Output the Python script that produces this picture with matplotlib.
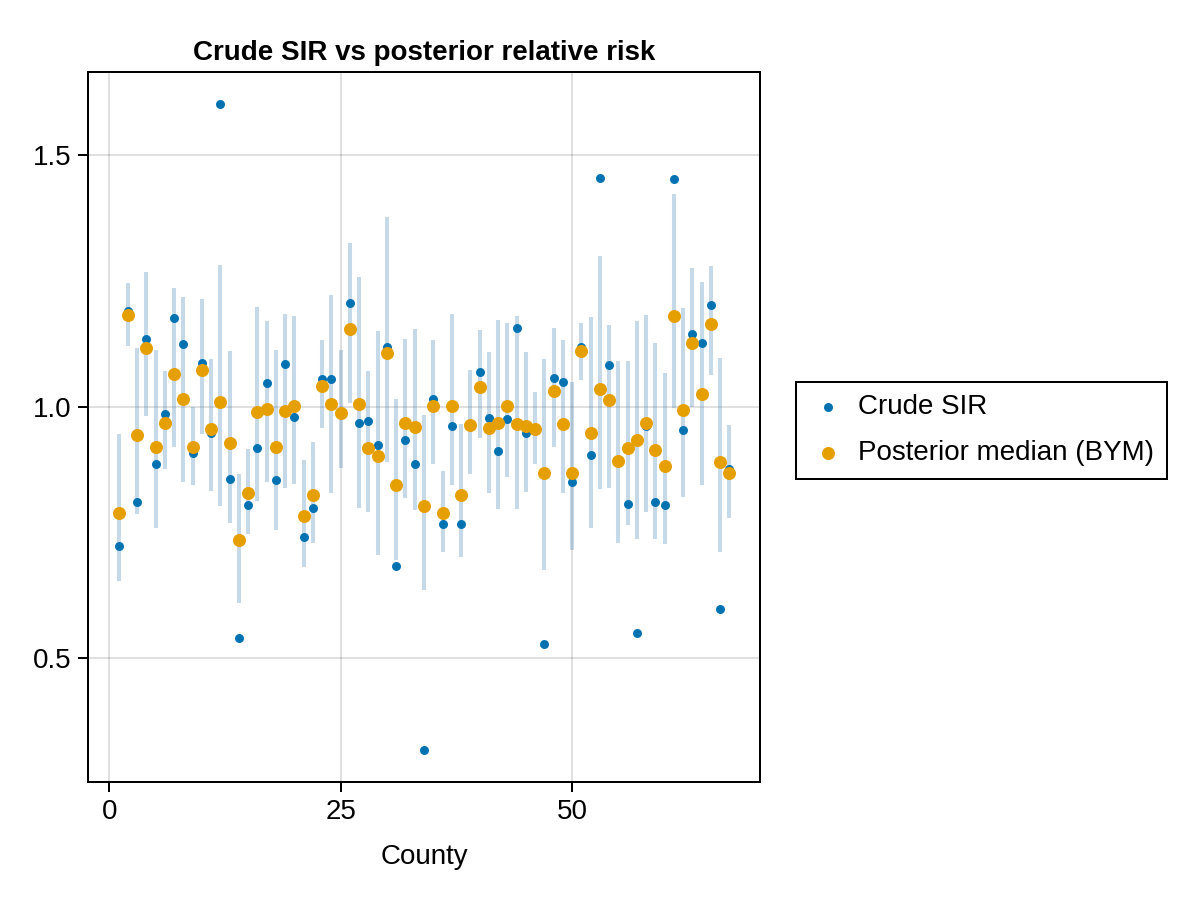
import numpy as np
import matplotlib
matplotlib.use("Agg")
import matplotlib.pyplot as plt

county = list(range(1, 68))

crude_sir = [0.723, 1.191, 0.810, 1.135, 0.886, 0.986, 1.177, 1.125, 0.908, 1.086,
             0.948, 1.602, 0.857, 0.540, 0.805, 0.918, 1.048, 0.855, 1.084, 0.980,
             0.741, 0.799, 1.056, 1.056, 0.988, 1.207, 0.968, 0.972, 0.924, 1.118,
             0.683, 0.934, 0.886, 0.317, 1.016, 0.766, 0.962, 0.766, 0.962, 1.068,
             0.978, 0.912, 0.976, 1.157, 0.948, 0.956, 0.528, 1.058, 1.050, 0.851,
             1.118, 0.904, 1.456, 1.082, 0.890, 0.807, 0.550, 0.962, 0.811, 0.805,
             1.454, 0.954, 1.145, 1.127, 1.203, 0.598, 0.876]

post_median = [0.789, 1.183, 0.944, 1.116, 0.920, 0.968, 1.064, 1.016, 0.920, 1.072,
               0.956, 1.010, 0.928, 0.735, 0.829, 0.990, 0.996, 0.920, 0.992, 1.002,
               0.783, 0.825, 1.042, 1.006, 0.987, 1.155, 1.006, 0.918, 0.902, 1.106,
               0.845, 0.968, 0.960, 0.803, 1.002, 0.789, 1.002, 0.825, 0.963, 1.040,
               0.958, 0.968, 1.002, 0.966, 0.962, 0.956, 0.867, 1.032, 0.966, 0.867,
               1.110, 0.948, 1.035, 1.014, 0.892, 0.918, 0.934, 0.968, 0.914, 0.882,
               1.181, 0.994, 1.127, 1.026, 1.165, 0.890, 0.867]

ci_lower = [0.653, 1.120, 0.787, 0.982, 0.759, 0.876, 0.920, 0.851, 0.845, 0.946,
            0.833, 0.803, 0.769, 0.610, 0.747, 0.813, 0.851, 0.755, 0.839, 0.847,
            0.681, 0.729, 0.958, 0.829, 0.878, 1.008, 0.799, 0.791, 0.705, 0.889,
            0.695, 0.819, 0.795, 0.635, 0.886, 0.711, 0.845, 0.700, 0.865, 0.938,
            0.829, 0.797, 0.859, 0.797, 0.831, 0.886, 0.675, 0.920, 0.829, 0.715,
            1.054, 0.759, 0.837, 0.839, 0.729, 0.765, 0.737, 0.791, 0.737, 0.727,
            0.998, 0.821, 1.000, 0.845, 1.062, 0.711, 0.779]

ci_upper = [0.946, 1.247, 1.116, 1.267, 1.112, 1.070, 1.237, 1.219, 1.000, 1.215,
            1.095, 1.281, 1.110, 0.865, 0.916, 1.198, 1.170, 1.112, 1.185, 1.181,
            0.894, 0.930, 1.133, 1.223, 1.112, 1.325, 1.259, 1.070, 1.150, 1.378,
            1.016, 1.135, 1.155, 0.984, 1.133, 0.871, 1.185, 0.966, 1.072, 1.153,
            1.108, 1.173, 1.167, 1.181, 1.108, 1.030, 1.094, 1.157, 1.133, 1.050,
            1.167, 1.179, 1.299, 1.163, 1.090, 1.090, 1.171, 1.183, 1.127, 1.066,
            1.424, 1.197, 1.275, 1.249, 1.279, 1.096, 0.964]

xticks = [0, 25, 50]
yticks = [0.5, 1.0, 1.5]
ytick_labels = ["0.5", "1.0", "1.5"]

plt.rcParams['font.family'] = ['Liberation Sans', 'DejaVu Sans']

fig = plt.figure(figsize=(12, 9), dpi=100)
ax = fig.add_axes([88/1200, 1-782/900, (760-88)/1200, (782-72)/900])

blue = "#0072B2"
orange = "#E69F00"

ax.vlines(county, ci_lower, ci_upper, color=(0.27, 0.51, 0.71), alpha=0.3,
          linewidth=2.9, zorder=2)
ax.scatter(county, crude_sir, s=42, color=blue, linewidths=0, zorder=3,
           label="Crude SIR")
ax.scatter(county, post_median, s=88, color=orange, linewidths=0, zorder=4,
           label="Posterior median (BYM)")

ax.set_xlim(-2.3, 70.3)
ax.set_ylim(0.253, 1.666)
ax.set_xticks(xticks)
ax.set_yticks(yticks)
ax.set_yticklabels(ytick_labels)
ax.grid(True, color='black', alpha=0.12, linewidth=1.44, zorder=0)
ax.set_axisbelow(True)
for sp in ax.spines.values():
    sp.set_linewidth(1.44)
ax.tick_params(axis='both', which='major', length=7.2, width=1.44,
               labelsize=20, pad=5)

ax.set_xlabel("County", fontsize=20, labelpad=14)
ax.set_title("Crude SIR vs posterior relative risk", fontsize=20,
             fontweight='bold', pad=9)

leg = fig.legend(loc='center left', bbox_to_anchor=(796/1200, 1-430/900),
                 fontsize=20, frameon=True, fancybox=False, scatterpoints=1,
                 handletextpad=0.4, borderpad=0.45, labelspacing=0.72,
                 handlelength=1.4, borderaxespad=0)
leg.get_frame().set_edgecolor('black')
leg.get_frame().set_linewidth(1.44)
leg.get_frame().set_alpha(1.0)

fig.savefig("out.png", dpi=100)
